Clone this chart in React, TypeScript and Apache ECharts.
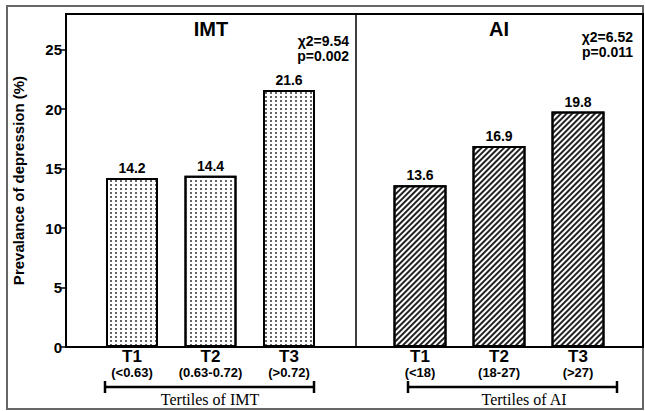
import React, { useEffect, useRef } from "react";
import * as echarts from "echarts";

const imtCategories = ["T1", "T2", "T3"];
const imtRanges = ["(<0.63)", "(0.63-0.72)", "(>0.72)"];
const imtValues = [14.2, 14.4, 21.6];
const aiCategories = ["T1", "T2", "T3"];
const aiRanges = ["(<18)", "(18-27)", "(>27)"];
const aiValues = [13.6, 16.9, 19.8];
const yTicks = [0, 5, 10, 15, 20, 25];
const yAxisName = "Prevalance of depression (%)";
const imtStats = ["χ2=9.54", "p=0.002"];
const aiStats = ["χ2=6.52", "p=0.011"];

const SANS = "'Liberation Sans', Arial, sans-serif";
const SERIF = "'Liberation Serif', 'Times New Roman', serif";

export default function App() {
  const ref = useRef<HTMLDivElement>(null);
  useEffect(() => {
    if (!ref.current) return;
    const chart = echarts.init(ref.current, undefined, { renderer: "svg" });
    const xLabel = (ranges: string[]) => ({
      interval: 0,
      margin: 1,
      formatter: (v: string, i: number) => `{a|${v}}\n{b|${ranges[i]}}`,
      rich: {
        a: { fontFamily: SANS, fontWeight: "bold", fontSize: 17, color: "#000", lineHeight: 17 },
        b: { fontFamily: SANS, fontWeight: "bold", fontSize: 13, color: "#000", lineHeight: 14 },
      },
    });
    const barLabel = {
      show: true,
      position: "top",
      distance: 3,
      fontFamily: SANS,
      fontWeight: "bold",
      fontSize: 14,
      color: "#000",
      formatter: (p: any) => p.value.toFixed(1),
    };
    const dotDecal = {
      symbol: "rect",
      symbolSize: 1,
      dashArrayX: [1.1, 2.9],
      dashArrayY: [1.1, 1.9],
      color: "#666",
      rotation: 0,
    };
    const hatchDecal = {
      symbol: "rect",
      symbolSize: 1,
      dashArrayX: [1, 0],
      dashArrayY: [1.1, 1.5],
      color: "#222",
      rotation: -Math.PI / 4,
    };
    const statText = (lines: string[], x: number, y: number) =>
      lines.map((t, i) => ({
        type: "text",
        x,
        y: y + i * 15,
        style: {
          text: t,
          fontFamily: SANS,
          fontWeight: "bold",
          fontSize: 14,
          fill: "#000",
          textAlign: "right",
          textVerticalAlign: "middle",
        },
      }));
    const bracket = (x1: number, x2: number, y: number) => [
      { type: "line", shape: { x1, y1: y, x2, y2: y }, style: { stroke: "#000", lineWidth: 2.5 } },
      { type: "line", shape: { x1, y1: y - 6, x2: x1, y2: y + 6 }, style: { stroke: "#000", lineWidth: 2.5 } },
      { type: "line", shape: { x1: x2, y1: y - 6, x2, y2: y + 6 }, style: { stroke: "#000", lineWidth: 2.5 } },
    ];
    chart.setOption({
      animation: false,
      grid: [
        { left: 92.75, width: 235.5, top: 14, bottom: 64 },
        { left: 380.5, width: 237, top: 14, bottom: 64 },
      ],
      xAxis: [
        {
          type: "category",
          gridIndex: 0,
          data: imtCategories,
          axisLine: { show: false },
          axisTick: { show: false },
          axisLabel: xLabel(imtRanges),
        },
        {
          type: "category",
          gridIndex: 1,
          data: aiCategories,
          axisLine: { show: false },
          axisTick: { show: false },
          axisLabel: xLabel(aiRanges),
        },
      ],
      yAxis: [
        {
          type: "value",
          gridIndex: 0,
          min: 0,
          max: 28,
          offset: 26.75,
          splitLine: { show: false },
          axisLine: { show: false },
          axisTick: { show: true, length: 6, customValues: yTicks, lineStyle: { color: "#000", width: 1.5 } },
          axisLabel: {
            customValues: yTicks,
            margin: 4,
            fontFamily: SANS,
            fontWeight: "bold",
            fontSize: 15,
            color: "#000",
          },
          name: yAxisName,
          nameLocation: "middle",
          nameGap: 40,
          nameTextStyle: { fontFamily: SANS, fontWeight: "bold", fontSize: 15, color: "#000" },
        },
        {
          type: "value",
          gridIndex: 1,
          min: 0,
          max: 28,
          show: false,
          splitLine: { show: false },
        },
      ],
      series: [
        {
          type: "bar",
          xAxisIndex: 0,
          yAxisIndex: 0,
          data: imtValues,
          barWidth: 52,
          itemStyle: { color: "#fff", borderColor: "#000", borderWidth: 2, decal: dotDecal },
          label: barLabel,
        },
        {
          type: "bar",
          xAxisIndex: 1,
          yAxisIndex: 1,
          data: aiValues,
          barWidth: 53,
          itemStyle: { color: "#fff", borderColor: "#000", borderWidth: 2, decal: hatchDecal },
          label: barLabel,
        },
      ],
      graphic: [
        { type: "rect", shape: { x: 7, y: 6, width: 636, height: 403 }, style: { fill: "none", stroke: "#666", lineWidth: 2 } },
        { type: "rect", shape: { x: 66, y: 14, width: 577, height: 333 }, style: { fill: "none", stroke: "#000", lineWidth: 2 } },
        { type: "line", shape: { x1: 356, y1: 14, x2: 356, y2: 347 }, style: { stroke: "#000", lineWidth: 1.5 } },
        {
          type: "text",
          x: 211,
          y: 29,
          style: { text: "IMT", fontFamily: SANS, fontWeight: "bold", fontSize: 20, fill: "#000", textAlign: "center", textVerticalAlign: "middle" },
        },
        {
          type: "text",
          x: 499,
          y: 29,
          style: { text: "AI", fontFamily: SANS, fontWeight: "bold", fontSize: 20, fill: "#000", textAlign: "center", textVerticalAlign: "middle" },
        },
        ...statText(imtStats, 349, 41),
        ...statText(aiStats, 633, 37),
        ...bracket(105, 314, 387),
        ...bracket(408, 617, 387),
        {
          type: "text",
          x: 210,
          y: 399,
          style: { text: "Tertiles of IMT", fontFamily: SERIF, fontSize: 16, fill: "#000", textAlign: "center", textVerticalAlign: "middle" },
        },
        {
          type: "text",
          x: 524,
          y: 399,
          style: { text: "Tertiles of AI", fontFamily: SERIF, fontSize: 16, fill: "#000", textAlign: "center", textVerticalAlign: "middle" },
        },
      ],
    });
    return () => chart.dispose();
  }, []);
  return <div ref={ref} style={{ width: 645, height: 411, position: "absolute", left: 0, top: 0 }} />;
}
